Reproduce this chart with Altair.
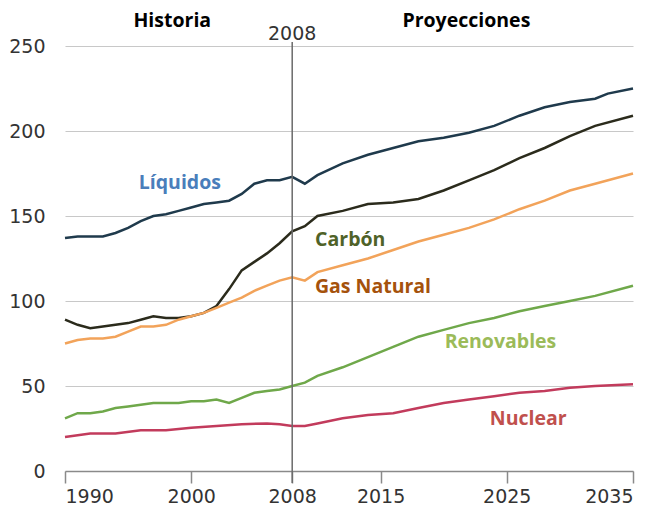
import altair as alt
import pandas as pd

# ---- data ----
series_names = ["Líquidos", "Carbón", "Gas Natural", "Renovables", "Nuclear"]
line_colors = ["#1f3a4c", "#2b2b1c", "#f2a35a", "#6fa84a", "#c23b5c"]

liq_years = [1990, 1991, 1992, 1993, 1994, 1995, 1996, 1997, 1998, 1999, 2000, 2001, 2002, 2003,
             2004, 2005, 2006, 2007, 2008, 2009, 2010, 2012, 2014, 2016, 2018, 2020, 2022, 2024,
             2026, 2028, 2030, 2032, 2033, 2035]
liq_values = [137, 138, 138, 138, 140, 143, 147, 150, 151, 153, 155, 157, 158, 159,
              163, 169, 171, 171, 173, 169, 174, 181, 186, 190, 194, 196, 199, 203,
              209, 214, 217, 219, 222, 225]

car_years = [1990, 1991, 1992, 1993, 1994, 1995, 1996, 1997, 1998, 1999, 2000, 2001, 2002, 2003,
             2004, 2005, 2006, 2007, 2008, 2009, 2010, 2012, 2014, 2016, 2018, 2020, 2022, 2024,
             2026, 2028, 2030, 2032, 2035]
car_values = [89, 86, 84, 85, 86, 87, 89, 91, 90, 90, 91, 93, 97, 107,
              118, 123, 128, 134, 141, 144, 150, 153, 157, 158, 160, 165, 171, 177,
              184, 190, 197, 203, 209]

gas_years = [1990, 1991, 1992, 1993, 1994, 1995, 1996, 1997, 1998, 1999, 2000, 2001, 2002, 2003,
             2004, 2005, 2006, 2007, 2008, 2009, 2010, 2012, 2014, 2016, 2018, 2020, 2022, 2024,
             2026, 2028, 2030, 2032, 2035]
gas_values = [75, 77, 78, 78, 79, 82, 85, 85, 86, 89, 91, 93, 96, 99,
              102, 106, 109, 112, 114, 112, 117, 121, 125, 130, 135, 139, 143, 148,
              154, 159, 165, 169, 175]

ren_years = [1990, 1991, 1992, 1993, 1994, 1995, 1996, 1997, 1998, 1999, 2000, 2001, 2002, 2003,
             2004, 2005, 2006, 2007, 2008, 2009, 2010, 2012, 2014, 2016, 2018, 2020, 2022, 2024,
             2026, 2028, 2030, 2032, 2035]
ren_values = [31, 34, 34, 35, 37, 38, 39, 40, 40, 40, 41, 41, 42, 40,
              43, 46, 47, 48, 50, 52, 56, 61, 67, 73, 79, 83, 87, 90,
              94, 97, 100, 103, 109]

nuc_years = [1990, 1992, 1994, 1996, 1998, 2000, 2002, 2004, 2006, 2007, 2008, 2009, 2010, 2012,
             2014, 2016, 2018, 2020, 2022, 2024, 2026, 2028, 2030, 2032, 2035]
nuc_values = [20, 22, 22, 24, 24, 25.5, 26.5, 27.5, 28, 27.5, 26.5, 26.5, 28, 31,
              33, 34, 37, 40, 42, 44, 46, 47, 49, 50, 51]

x_ticks = [1990, 2000, 2008, 2015, 2025, 2035]
y_ticks = [0, 50, 100, 150, 200, 250]

label_texts = ["Líquidos", "Carbón", "Gas Natural", "Renovables", "Nuclear", "Historia", "Proyecciones"]
label_years = [1999.1, 2012.6, 2014.4, 2024.5, 2026.7, 1998.5, 2021.8]
label_values = [169.5, 136, 108, 76, 30.5, 265, 265]
label_colors = ["#4a7ebb", "#4f6228", "#a5520c", "#9bbb59", "#c0504d", "#000000", "#000000"]

# ---- build tables ----
rows = []
for name, ys, vs in zip(series_names,
                        [liq_years, car_years, gas_years, ren_years, nuc_years],
                        [liq_values, car_values, gas_values, ren_values, nuc_values]):
    for yr, v in zip(ys, vs):
        rows.append({"serie": name, "anio": yr, "valor": v})
df = pd.DataFrame(rows)

labels_df = pd.DataFrame({"texto": label_texts, "anio": label_years,
                          "valor": label_values, "color": label_colors})

x_scale = alt.Scale(domain=[1990, 2035], nice=False, zero=False)
y_scale = alt.Scale(domain=[0, 250], nice=False)

lines = alt.Chart(df).mark_line(strokeWidth=2.5).encode(
    x=alt.X("anio:Q", scale=x_scale,
            axis=alt.Axis(values=x_ticks, format="d", title=None, grid=False,
                          domainColor="#8a8a8a", domainWidth=1.5, tickColor="#8a8a8a",
                          tickWidth=1.5, tickSize=12, labelPadding=4)),
    y=alt.Y("valor:Q", scale=y_scale,
            axis=alt.Axis(values=y_ticks, title=None, grid=True, gridColor="#c8c8c8",
                          gridWidth=1.2, domain=False, ticks=False, labelPadding=20)),
    color=alt.Color("serie:N", scale=alt.Scale(domain=series_names, range=line_colors), legend=None),
)

rule = alt.Chart(pd.DataFrame({"anio": [2008]})).mark_rule(color="#6a6a6a", strokeWidth=1.5).encode(
    x=alt.X("anio:Q", scale=x_scale),
    y=alt.value(-4),
    y2=alt.value(437),
)

top_label = alt.Chart(pd.DataFrame({"anio": [2008], "valor": [257], "texto": ["2008"]})).mark_text(
    font="DejaVu Sans", fontSize=19, color="#333333"
).encode(
    x=alt.X("anio:Q", scale=x_scale),
    y=alt.Y("valor:Q", scale=y_scale),
    text="texto:N",
)

labels = alt.Chart(labels_df).mark_text(font="Open Sans", fontWeight="bold", fontSize=19.5).encode(
    x=alt.X("anio:Q", scale=x_scale),
    y=alt.Y("valor:Q", scale=y_scale),
    text="texto:N",
    color=alt.Color("color:N", scale=None),
)

chart = alt.layer(lines, rule, top_label, labels).properties(
    width=568, height=425,
    autosize=alt.AutoSizeParams(type="none"),
    padding={"left": 57, "top": 38, "right": 16, "bottom": 37},
).configure_axis(
    labelFont="DejaVu Sans", labelFontSize=19, labelColor="#333333"
).configure_view(stroke=None)

chart.save("out.html", embed_options={"renderer": "svg", "actions": False})
